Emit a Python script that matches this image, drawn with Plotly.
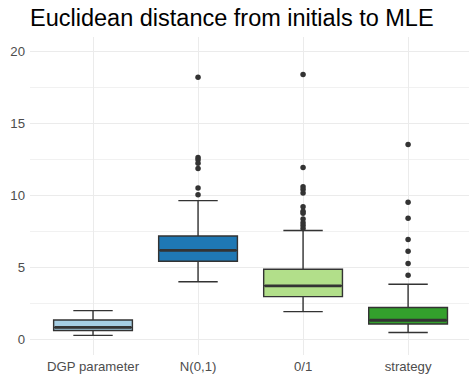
import plotly.graph_objects as go

categories = ["DGP parameter", "N(0,1)", "0/1", "strategy"]
lower_whisker = [0.28, 4.0, 1.93, 0.48]
q1 = [0.62, 5.42, 2.97, 1.07]
median = [0.83, 6.18, 3.72, 1.33]
q3 = [1.35, 7.17, 4.87, 2.21]
upper_whisker = [2.0, 9.63, 7.56, 3.83]
outliers = [
    [],
    [18.18, 12.62, 12.46, 12.23, 11.86, 10.5, 10.04],
    [18.37, 11.93, 10.6, 10.4, 10.15, 9.2, 8.9, 8.75, 8.35, 8.1, 7.9, 7.7],
    [13.52, 9.52, 8.41, 6.94, 6.11, 5.26, 4.46],
]
colors = ["#A6CEE3", "#1F78B4", "#B2DF8A", "#33A02C"]

BOX_W = 0.75
fig = go.Figure()
for i, cat in enumerate(categories):
    fig.add_trace(go.Box(
        x=[i], lowerfence=[lower_whisker[i]], q1=[q1[i]], median=[median[i]],
        q3=[q3[i]], upperfence=[upper_whisker[i]],
        width=BOX_W, fillcolor=colors[i],
        line=dict(color="#333333", width=1.4),
        boxpoints=False, showlegend=False, hoverinfo="skip",
    ))
    fig.add_trace(go.Scatter(
        x=[i - BOX_W / 2 + 0.01, i + BOX_W / 2 - 0.01], y=[median[i], median[i]],
        mode="lines", line=dict(color="#333333", width=2.8),
        showlegend=False, hoverinfo="skip",
    ))
    if outliers[i]:
        fig.add_trace(go.Scatter(
            x=[i] * len(outliers[i]), y=outliers[i], mode="markers",
            marker=dict(color="#333333", size=5.5),
            showlegend=False, hoverinfo="skip",
        ))

fig.update_layout(
    width=469, height=374,
    margin=dict(l=30, r=0, t=37, b=17),
    plot_bgcolor="white", paper_bgcolor="white",
    font=dict(family="Liberation Sans, Arial, sans-serif", color="#4D4D4D", size=13.2),
    title=dict(text="Euclidean distance from initials to MLE",
               font=dict(size=23.5, color="black"),
               x=0, xref="paper", xanchor="left",
               y=1 - 18 / 374, yref="container", yanchor="middle"),
    xaxis=dict(range=[-0.6, 3.58], tickvals=list(range(len(categories))),
               ticktext=categories, showgrid=True, gridcolor="#EBEBEB", gridwidth=1.4,
               zeroline=False, showline=False, ticks="", ticklabelstandoff=2),
    yaxis=dict(range=[-1.08, 20.98], tickvals=[0, 5, 10, 15, 20],
               showgrid=True, gridcolor="#EBEBEB", gridwidth=1.4,
               minor=dict(tickvals=[2.5, 7.5, 12.5, 17.5], showgrid=True,
                          gridcolor="#F1F1F1", gridwidth=1.2),
               zeroline=False, showline=False, ticks="", ticklabelstandoff=4),
)
fig.write_html("out.html")
